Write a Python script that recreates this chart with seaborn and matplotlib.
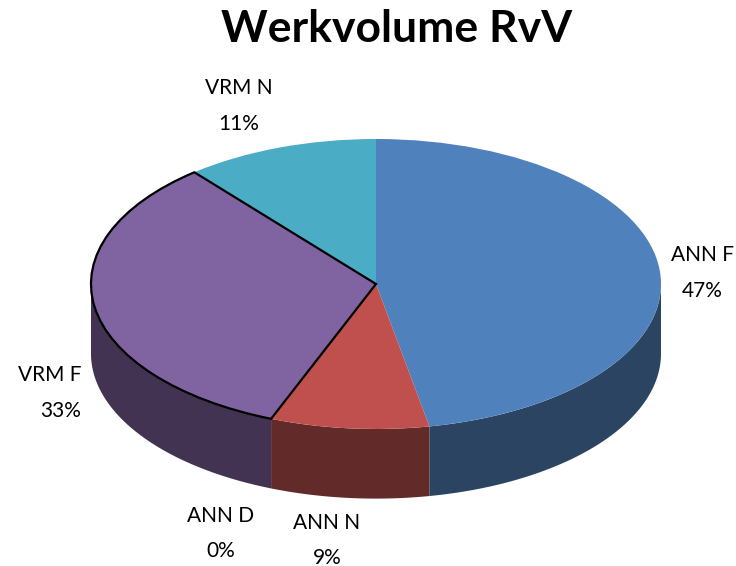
import numpy as np
import matplotlib.pyplot as plt
import seaborn as sns
from matplotlib.patches import Polygon

sns.set_style('white')
plt.rcParams['font.family'] = ['Lato', 'DejaVu Sans']

# chart data
labels = ['ANN F', 'ANN N', 'ANN D', 'VRM F', 'VRM N']
shares = [47, 9, 0, 33, 11]

top_colors = ['#4F81BD', '#C0504D', '#9BBB59', '#8064A2', '#4BACC6']
side_colors = ['#2A4462', '#632A2A', '#4E5E2C', '#433352', '#25596A']

# label anchors (pie units: x radius = 1, y radius = 1 before the squash)
label_xy = [(1.145, 0.076), (-0.172, -1.77), (-0.544, -1.72), (-1.035, -0.752), (-0.48, 1.228)]
label_ha = ['center', 'center', 'center', 'right', 'center']

depth = 0.48

fig = plt.figure(figsize=(7.36, 5.66), dpi=100)
ax = fig.add_axes([0, 0, 1, 1])

wedges, _ = ax.pie(shares, colors=top_colors, startangle=90, counterclock=False,
                   radius=1, wedgeprops=dict(linewidth=0))

# outer wall of the front half
for w, c in zip(wedges, side_colors):
    lo = max(w.theta1, -180)
    hi = min(w.theta2, 0)
    if hi <= lo:
        continue
    t = np.radians(np.linspace(lo, hi, 200))
    top = np.column_stack([np.cos(t), np.sin(t)])
    bot = np.column_stack([np.cos(t), np.sin(t) - depth])[::-1]
    ax.add_patch(Polygon(np.vstack([top, bot]), closed=True, facecolor=c,
                         edgecolor='none', zorder=0.5))

# selected slice outline
wedges[3].set_edgecolor('black')
wedges[3].set_linewidth(1.6)
wedges[3].set_zorder(2)

for (x, y), lab, v, ha in zip(label_xy, labels, shares, label_ha):
    ax.text(x, y, f'{lab}\n{v}%', ha=ha, va='center', multialignment=ha,
            fontsize=15, linespacing=1.95, color='black')

ax.set_aspect('auto')
ax.set_xlim(-376 / 285, 360 / 285)
ax.set_ylim(-282 / 145, 284 / 145)
ax.axis('off')

fig.text(0.539, 0.949, 'Werkvolume RvV', ha='center', va='center',
         fontsize=32, fontweight='bold', color='black')

fig.savefig('out.png', dpi=100)
